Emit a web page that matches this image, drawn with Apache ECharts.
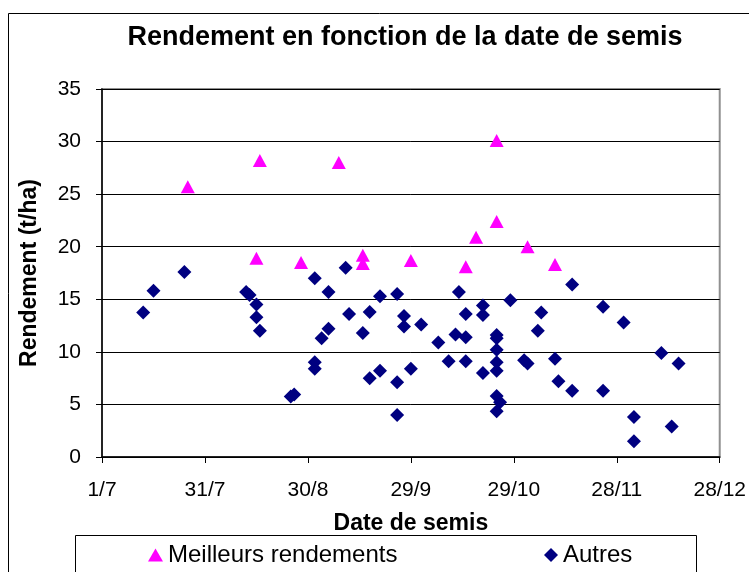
<!DOCTYPE html>
<html>
<head>
<meta charset="utf-8">
<script src="https://cdn.jsdelivr.net/npm/echarts@6/dist/echarts.min.js"></script>
<style>
  html, body { margin: 0; padding: 0; background: #fff; }
  #chart { width: 749px; height: 572px; }
</style>
</head>
<body>
<div id="chart"></div>
<script>
// x = days since 1 July (sowing date), y = yield in t/ha
const tickLabels = ['1/7', '31/7', '30/8', '29/9', '29/10', '28/11', '28/12'];

const bestDays = [25, 46, 45, 58, 69, 76, 76, 90, 106, 109, 115, 115, 124, 132];
const bestYield = [25.7, 28.2, 18.9, 18.5, 28.0, 19.2, 18.4, 18.7, 18.1, 20.9, 30.1, 22.4, 20.0, 18.3];

const otherDays = [12, 15, 24, 42, 43, 45, 45, 46, 55, 56, 62, 62, 62, 64, 66, 66, 71, 72, 76, 78, 78,
  81, 81, 86, 86, 86, 88, 88, 90, 93, 98, 101, 103, 104, 106, 106, 106, 111, 111, 111,
  115, 115, 115, 115, 115, 115, 116, 115, 119, 123, 124, 127, 128, 132, 133, 137, 137,
  146, 146, 152, 155, 155, 163, 166, 168];
const otherYield = [13.75, 15.8, 17.6, 15.7, 15.4, 14.5, 13.3, 12.0, 5.76, 5.95, 17.0, 9.0, 8.4, 11.3, 15.7, 12.2, 18.0, 13.6, 11.8, 13.8, 7.5,
  15.3, 8.2, 15.5, 7.1, 4.0, 13.4, 12.4, 8.4, 12.6, 10.9, 9.1, 11.65, 15.7, 11.4, 13.6, 9.1, 14.4, 13.5, 8.0,
  11.6, 11.3, 10.2, 9.0, 8.2, 5.8, 5.2, 4.35, 14.9, 9.2, 8.9, 12.0, 13.75, 9.35, 7.2, 16.4, 6.3,
  14.3, 6.3, 12.8, 3.8, 1.5, 9.9, 2.9, 8.9];

const font = '"Liberation Sans", Arial, sans-serif';
const chart = echarts.init(document.getElementById('chart'));

const option = {
  animation: false,
  backgroundColor: '#fff',
  grid: {
    left: 102,
    right: 28,
    top: 89,
    bottom: 115,
    show: true,
    borderColor: '#909090',
    borderWidth: 2
  },
  graphic: [
    {
      type: 'rect',
      shape: { x: 8.5, y: 13.5, width: 760, height: 580 },
      style: { fill: null, stroke: '#000', lineWidth: 1 },
      silent: true,
      z: -1
    },
    {
      type: 'rect',
      shape: { x: 75.5, y: 535.5, width: 621, height: 50 },
      style: { fill: null, stroke: '#000', lineWidth: 1 },
      silent: true
    },
    {
      type: 'text',
      x: 405,
      y: 38,
      style: {
        text: 'Rendement en fonction de la date de semis',
        font: 'bold 27px ' + font,
        fill: '#000',
        textAlign: 'center',
        textVerticalAlign: 'middle'
      }
    }
  ],
  legend: [
    {
      data: ['Meilleurs rendements'],
      left: 143,
      top: 538,
      itemWidth: 15,
      itemHeight: 13,
      itemGap: 5,
      textStyle: { fontFamily: font, fontSize: 24, color: '#000' }
    },
    {
      data: ['Autres'],
      left: 539,
      top: 538,
      itemWidth: 14,
      itemHeight: 14,
      textStyle: { fontFamily: font, fontSize: 24, color: '#000' }
    }
  ],
  xAxis: {
    type: 'value',
    min: 0,
    max: 180,
    interval: 30,
    name: 'Date de semis',
    nameLocation: 'middle',
    nameGap: 55,
    nameTextStyle: { fontFamily: font, fontSize: 23, fontWeight: 'bold', color: '#000' },
    axisLine: { lineStyle: { color: '#000', width: 1.5 } },
    axisTick: { show: true, length: 6, lineStyle: { color: '#000' } },
    axisLabel: {
      fontFamily: font,
      fontSize: 21,
      color: '#000',
      margin: 23,
      formatter: v => tickLabels[Math.round(v / 30)]
    },
    splitLine: { show: false }
  },
  yAxis: {
    type: 'value',
    min: 0,
    max: 35,
    interval: 5,
    name: 'Rendement (t/ha)',
    nameLocation: 'middle',
    nameGap: 61,
    nameTextStyle: { fontFamily: font, fontSize: 23, fontWeight: 'bold', color: '#000' },
    axisLine: { lineStyle: { color: '#000', width: 1.5 } },
    axisTick: { show: true, length: 6, lineStyle: { color: '#000' } },
    axisLabel: { fontFamily: font, fontSize: 21, color: '#000', margin: 21 },
    splitLine: { lineStyle: { color: '#000', width: 1 } }
  },
  series: [
    {
      name: 'Meilleurs rendements',
      type: 'scatter',
      symbol: 'triangle',
      symbolSize: [14, 13],
      itemStyle: { color: '#FF00FF', opacity: 1 },
      data: bestDays.map((d, i) => [d, bestYield[i]]),
      z: 3
    },
    {
      name: 'Autres',
      type: 'scatter',
      symbol: 'diamond',
      symbolSize: [14, 14],
      itemStyle: { color: '#000080', opacity: 1 },
      data: otherDays.map((d, i) => [d, otherYield[i]]),
      z: 2
    }
  ]
};

chart.setOption(option);
</script>
</body>
</html>
